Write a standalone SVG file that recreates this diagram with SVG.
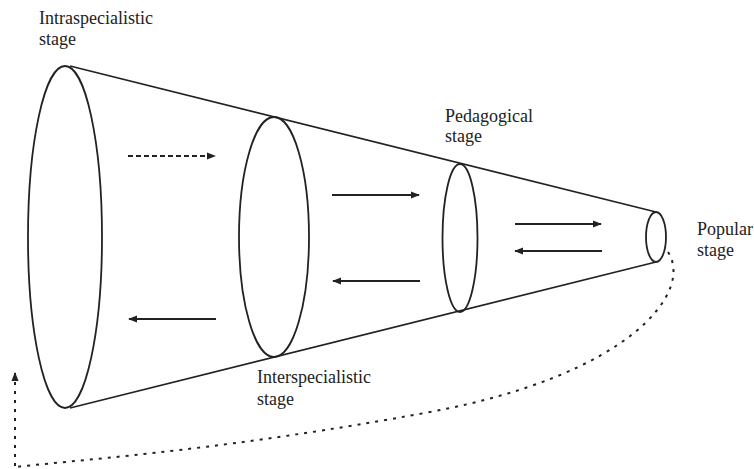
<svg xmlns="http://www.w3.org/2000/svg" width="754" height="469" viewBox="0 0 754 469">
<style>
.sh{fill:none;stroke:#222;stroke-width:1.8}
.ar{fill:none;stroke:#222;stroke-width:2}
</style>
<defs>
<marker id="ah" viewBox="0 0 10 10" refX="9" refY="5" markerWidth="4.5" markerHeight="4.5" orient="auto-start-reverse" markerUnits="strokeWidth">
<path d="M0,1 L10,5 L0,9 Z" fill="#222"/>
</marker>
</defs>
<rect width="754" height="469" fill="#fff"/>
<g id="cone">
<line class="sh" x1="70" y1="66" x2="656" y2="212"/>
<line class="sh" x1="70" y1="408" x2="656" y2="262"/>
</g>
<g font-family="Liberation Serif, Times New Roman, serif" font-size="18" fill="#222">
<g id="intraspecialistic">
<ellipse class="sh" cx="65" cy="237" rx="37" ry="171"/>
<text x="39" y="24">Intraspecialistic</text>
<text x="39" y="45">stage</text>
</g>
<g id="interspecialistic">
<ellipse class="sh" cx="274" cy="237" rx="35" ry="120"/>
<text x="257" y="383">Interspecialistic</text>
<text x="257" y="405">stage</text>
</g>
<g id="pedagogical">
<ellipse class="sh" cx="460" cy="238" rx="17.5" ry="74"/>
<text x="445" y="122">Pedagogical</text>
<text x="445" y="142">stage</text>
</g>
<g id="popular">
<ellipse class="sh" cx="656" cy="237" rx="10" ry="25"/>
<text x="697" y="235">Popular</text>
<text x="697" y="256">stage</text>
</g>
</g>
<g id="connectors">
<line class="ar" x1="128" y1="156" x2="215" y2="156" stroke-dasharray="5,3" marker-end="url(#ah)"/>
<line class="ar" x1="216" y1="319" x2="129" y2="319" marker-end="url(#ah)"/>
<line class="ar" x1="332" y1="195" x2="419" y2="195" marker-end="url(#ah)"/>
<line class="ar" x1="420" y1="281" x2="333" y2="281" marker-end="url(#ah)"/>
<line class="ar" x1="515" y1="224" x2="601" y2="224" marker-end="url(#ah)"/>
<line class="ar" x1="602" y1="251" x2="515" y2="251" marker-end="url(#ah)"/>
<path class="ar" d="M668,252 C694,292 630,375 430,412 S100,458 15,467" stroke-dasharray="3,6"/>
<line class="ar" x1="15" y1="466" x2="15" y2="373" stroke-dasharray="3,6" marker-end="url(#ah)"/>
</g>
</svg>
